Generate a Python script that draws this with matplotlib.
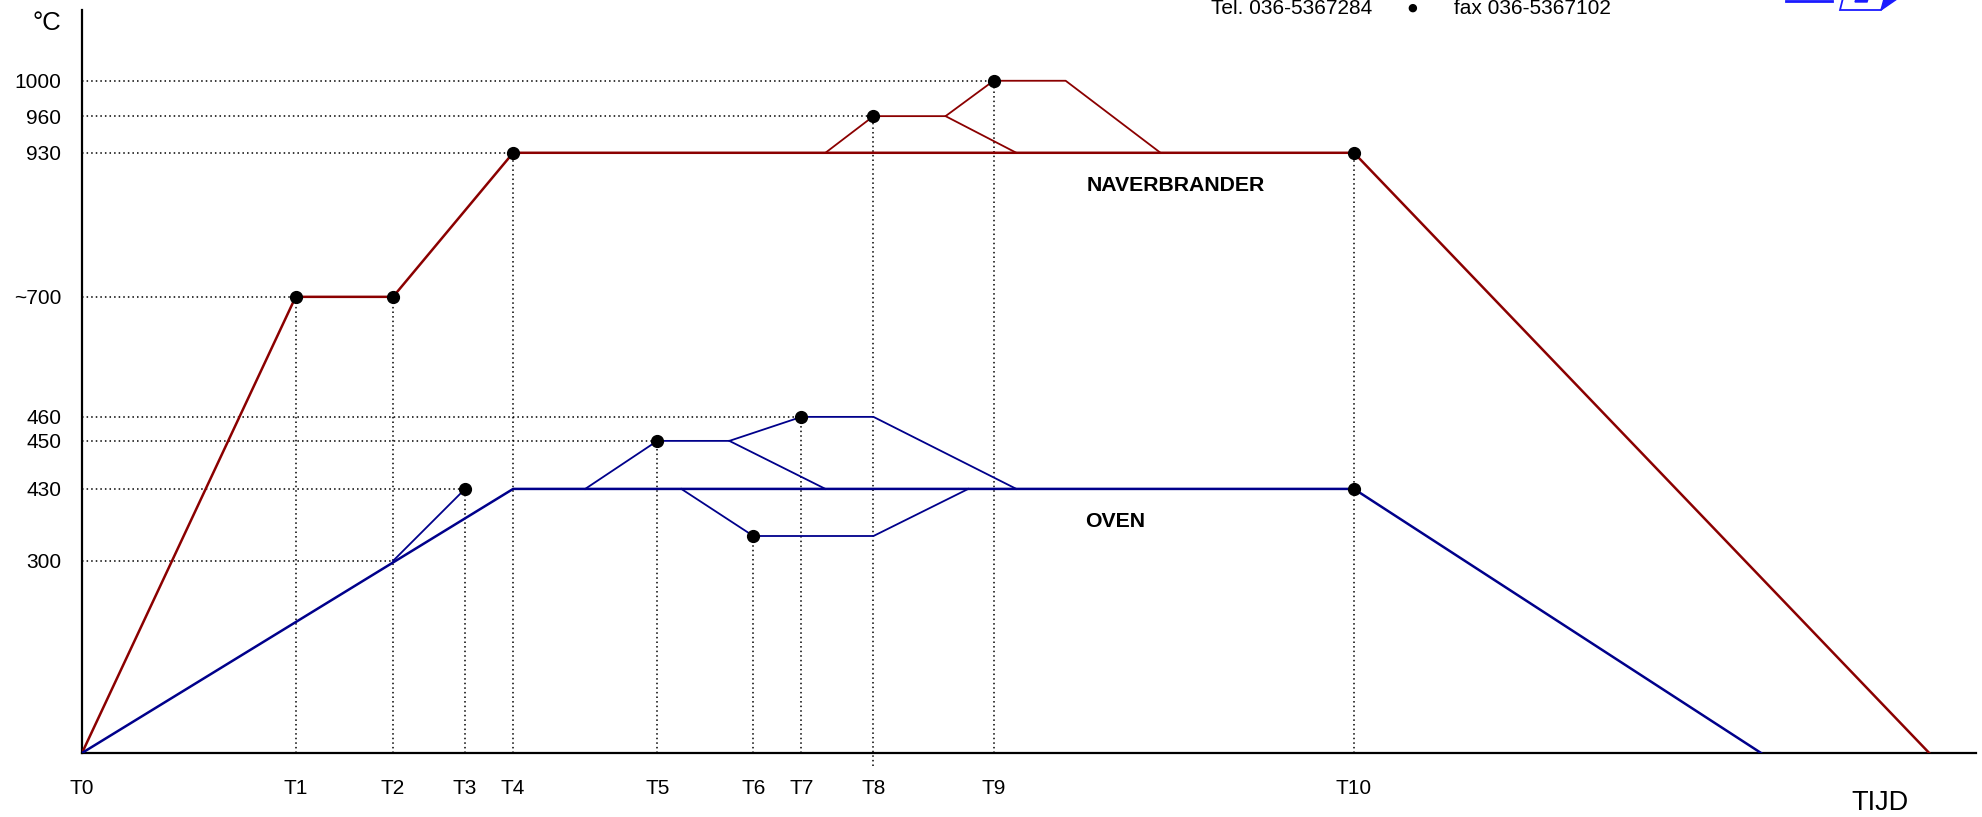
import numpy as np
import matplotlib
matplotlib.use("Agg")
import matplotlib.pyplot as plt
from matplotlib.patches import Polygon

plt.rcParams['font.family'] = ['Liberation Sans', 'DejaVu Sans']

# ---- data -------------------------------------------------------------
time_labels = ['T0', 'T1', 'T2', 'T3', 'T4', 'T5', 'T6', 'T7', 'T8', 'T9', 'T10']
time_values = [0, 169, 246, 303, 341, 455, 531, 569, 626, 721, 1006]

temp_labels = ['1000', '960', '930', '~700', '460', '450', '430', '300']
temp_values = [1000, 960, 930, 700, 460, 450, 430, 300]

# schematic (non-linear) temperature axis: temperature -> drawn height
scale_temps = [-300, 0, 300, 430, 450, 460, 700, 930, 960, 1000, 1200]
scale_height = [-152, 0, 152, 209, 247, 266, 361, 475, 504, 532, 672]

# NAVERBRANDER (afterburner)
nb_main_t = [0, 169, 246, 341, 1006, 1461]
nb_main_v = [0, 700, 700, 930, 930, 0]
nb_branch1_t = [588, 626, 683, 721, 778, 853]
nb_branch1_v = [930, 960, 960, 1000, 1000, 930]
nb_branch2_t = [683, 739]
nb_branch2_v = [960, 930]
nb_dots_t = [169, 246, 341, 626, 721, 1006]
nb_dots_v = [700, 700, 930, 960, 1000, 930]

# OVEN
ov_main_t = [0, 341, 1006, 1328]
ov_main_v = [0, 430, 430, 0]
ov_branch1_t = [246, 303]
ov_branch1_v = [300, 430]
ov_branch2_t = [398, 455, 512, 569, 626, 739]
ov_branch2_v = [430, 450, 450, 460, 460, 430]
ov_branch3_t = [512, 588]
ov_branch3_v = [450, 430]
ov_branch4_t = [474, 531, 626, 701]
ov_branch4_v = [430, 345, 345, 430]
ov_dots_t = [303, 455, 531, 569, 1006]
ov_dots_v = [430, 450, 345, 460, 430]

# reference guide lines
hguide_v = [1000, 960, 930, 700, 460, 450, 430, 300]
hguide_t = [721, 626, 341, 169, 569, 455, 303, 246]
vguide_t = [169, 246, 303, 341, 455, 531, 569, 626, 721, 1006]
vguide_top = [700, 700, 430, 930, 450, 345, 460, 960, 1000, 930]
vguide_bottom = [0, 0, 0, 0, 0, 0, 0, -20, 0, 0]

# ---- figure -----------------------------------------------------------
W, H = 1982, 817
fig = plt.figure(figsize=(W / 100, H / 100), dpi=100)
ax = fig.add_axes([82 / W, 64 / H, (1976 - 82) / W, (753 - 10) / H])


def fwd(v):
    return np.interp(v, scale_temps, scale_height)


def inv(p):
    return np.interp(p, scale_height, scale_temps)


ax.set_yscale('function', functions=(fwd, inv))
ax.set_xlim(0, 1498)
ax.set_ylim(0, 1080)

red = '#8b0000'
blue = '#00008b'
dot = dict(linestyle=(0, (1, 2)), color='black', lw=1.1)

for v, t in zip(hguide_v, hguide_t):
    ax.plot([0, t], [v, v], **dot, zorder=1)
for t, lo, hi in zip(vguide_t, vguide_bottom, vguide_top):
    ax.plot([t, t], [lo, hi], **dot, zorder=1, clip_on=False)

ax.plot(nb_main_t, nb_main_v, color=red, lw=1.8, zorder=3)
ax.plot(nb_branch1_t, nb_branch1_v, color=red, lw=1.3, zorder=3)
ax.plot(nb_branch2_t, nb_branch2_v, color=red, lw=1.3, zorder=3)
ax.plot(ov_main_t, ov_main_v, color=blue, lw=1.8, zorder=3)
for bt, bv in [(ov_branch1_t, ov_branch1_v), (ov_branch2_t, ov_branch2_v),
               (ov_branch3_t, ov_branch3_v), (ov_branch4_t, ov_branch4_v)]:
    ax.plot(bt, bv, color=blue, lw=1.3, zorder=3)

ax.plot(nb_dots_t, nb_dots_v, 'o', color='black', ms=8.5, zorder=5)
ax.plot(ov_dots_t, ov_dots_v, 'o', color='black', ms=8.5, zorder=5)

ax.text(865, 877, 'NAVERBRANDER', fontsize=15.3, fontweight='bold',
        ha='center', va='center')
ax.text(793, 371, 'OVEN', fontsize=15.3, fontweight='bold',
        ha='left', va='center')

# axes styling
for s in ['top', 'right']:
    ax.spines[s].set_visible(False)
for s in ['left', 'bottom']:
    ax.spines[s].set_linewidth(1.6)
ax.set_xticks(time_values, time_labels)
ax.set_yticks(temp_values, temp_labels)
ax.tick_params(axis='x', length=0, pad=19, labelsize=15)
ax.tick_params(axis='y', length=0, pad=15, labelsize=15)

fig.text(47 / W, 1 - 23 / H, '°C', fontsize=18.5, ha='center', va='center')
fig.text(1880 / W, 1 - 803 / H, 'TIJD', fontsize=19.5, ha='center', va='center')

fig.text(1211 / W, 1 - 8 / H, 'Tel. 036-5367284', fontsize=15,
         ha='left', va='center')
fig.text(1412 / W, 1 - 8 / H, '●', fontsize=8, ha='center', va='center',
         family='DejaVu Sans')
fig.text(1454 / W, 1 - 8 / H, 'fax 036-5367102', fontsize=15,
         ha='left', va='center')

# partial logo at the top edge
logo_blue = '#1a1aff'


def px(x, y):
    return (x / W, 1 - y / H)


fig.add_artist(plt.Line2D([1786 / W, 1832 / W], [1 - 1 / H, 1 - 1 / H],
                          color=logo_blue, lw=2, transform=fig.transFigure))
fig.add_artist(Polygon([px(1843, -2), px(1840, 10), px(1881, 10), px(1890, -2)],
                       closed=True, fill=False, edgecolor=logo_blue, lw=1.3,
                       transform=fig.transFigure))
fig.add_artist(Polygon([px(1856, -1), px(1855, 2), px(1867, 2), px(1868, -1)],
                       closed=True, color=logo_blue, transform=fig.transFigure))
fig.add_artist(Polygon([px(1881, 10), px(1897, -1), px(1884, -1)],
                       closed=True, color=logo_blue, transform=fig.transFigure))

fig.savefig('out.png', dpi=100)
